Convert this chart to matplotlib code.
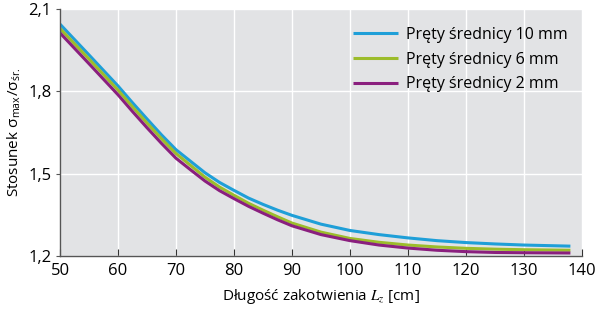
import matplotlib
matplotlib.use("Agg")
import matplotlib.pyplot as plt

plt.rcParams['font.family'] = ['Open Sans', 'DejaVu Sans']
plt.rcParams['mathtext.fontset'] = 'stix'

x_cm = [50, 55, 60, 62.5, 65, 67.5, 70, 72.5, 75, 77.5, 80, 82.5, 85, 87.5, 90,
        95, 100, 105, 110, 115, 120, 125, 130, 138]
d10 = [2.044, 1.932, 1.819, 1.758, 1.699, 1.641, 1.587, 1.545, 1.503, 1.468, 1.439, 1.411,
       1.388, 1.367, 1.348, 1.316, 1.293, 1.278, 1.266, 1.256, 1.249, 1.244, 1.240, 1.236]
d6 = [2.028, 1.917, 1.804, 1.743, 1.684, 1.627, 1.573, 1.530, 1.487, 1.451, 1.421, 1.392,
      1.367, 1.343, 1.320, 1.287, 1.264, 1.250, 1.240, 1.233, 1.228, 1.225, 1.223, 1.221]
d2 = [2.012, 1.900, 1.787, 1.726, 1.667, 1.610, 1.556, 1.514, 1.473, 1.438, 1.409, 1.381,
      1.356, 1.332, 1.310, 1.278, 1.256, 1.240, 1.229, 1.221, 1.216, 1.213, 1.212, 1.211]

labels = ['Pręty średnicy 10 mm', 'Pręty średnicy 6 mm', 'Pręty średnicy 2 mm']
colors = ['#1f9fd8', '#9cbc2b', '#8a1f7e']

xticks = [50, 60, 70, 80, 90, 100, 110, 120, 130, 140]
yticks = [1.2, 1.5, 1.8, 2.1]
ytick_labels = ['1,2', '1,5', '1,8', '2,1']

fig = plt.figure(figsize=(6.0, 3.13), dpi=100)
ax = fig.add_axes([0.1, 0.182, 0.87, 0.79])
ax.set_facecolor('#e2e3e5')

for y, lab, c in zip([d10, d6, d2], labels, colors):
    ax.plot(x_cm, y, color=c, lw=2.2, label=lab, solid_capstyle='butt', solid_joinstyle='round')

ax.set_xlim(50, 140)
ax.set_ylim(1.2, 2.1)
ax.set_xticks(xticks)
ax.set_xticklabels([str(t) for t in xticks])
ax.set_yticks(yticks)
ax.set_yticklabels(ytick_labels)
ax.grid(True, color='white', lw=1.0)
ax.set_axisbelow(True)

for s in ['top', 'right']:
    ax.spines[s].set_visible(False)
for s in ['left', 'bottom']:
    ax.spines[s].set_color('#555555')
    ax.spines[s].set_linewidth(1.0)

ax.tick_params(axis='x', direction='in', length=5, color='#333333', labelsize=12, pad=5)
ax.tick_params(axis='y', direction='out', length=3, color='#555555', labelsize=12, pad=3)

ax.set_ylabel('Stosunek σ$_\\mathregular{max}$/σ$_\\mathregular{śr.}$', fontsize=11, labelpad=4)
ax.set_xlabel('Długość zakotwienia $L_z$ [cm]', fontsize=11, labelpad=6)

leg = ax.legend(loc='upper right', frameon=False, fontsize=11.5, handlelength=2.8,
                handletextpad=0.5, labelspacing=0.55, bbox_to_anchor=(1.0, 0.985))

fig.savefig('out.png', dpi=100)
